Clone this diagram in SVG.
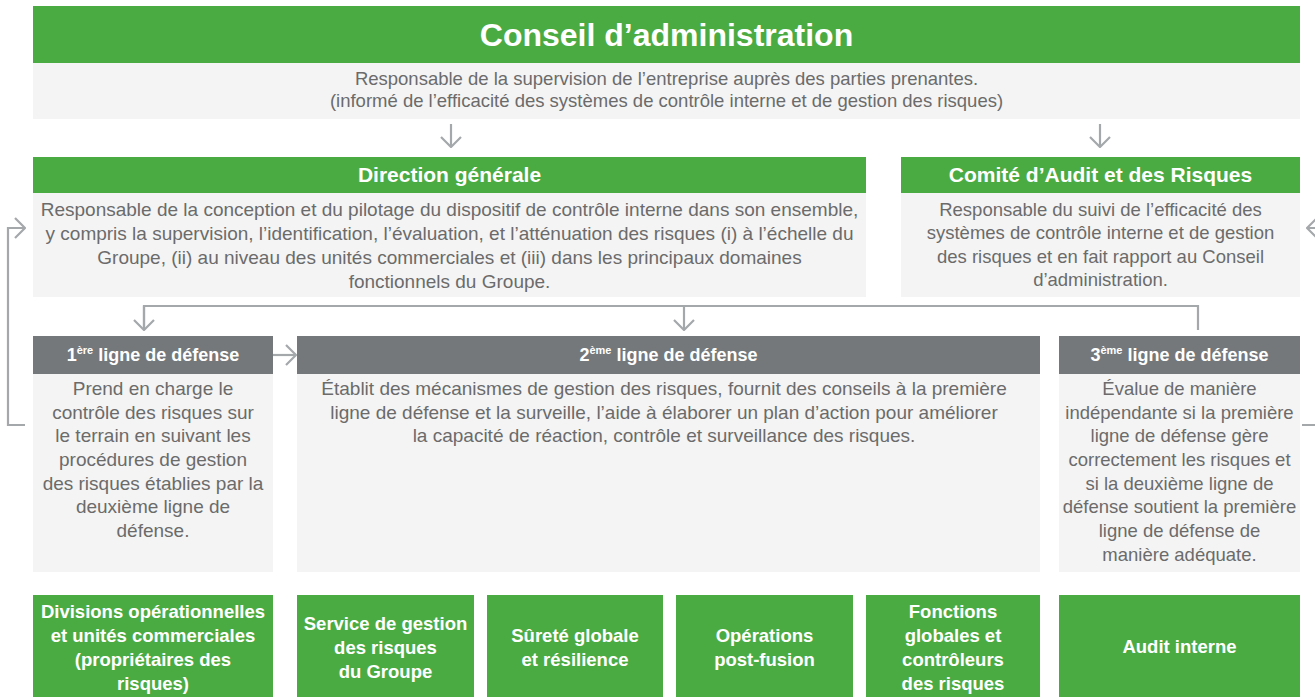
<svg xmlns="http://www.w3.org/2000/svg" width="1315" height="697" viewBox="0 0 1315 697">
<style>
.green{fill:#4bab43}
.hdr{fill:#75787b}
.body{fill:#f4f4f4}
.title{font-family:"Liberation Sans",Arial,sans-serif;font-weight:bold;font-size:32px;fill:#fff;text-anchor:middle}
.h1{font-family:"Liberation Sans",Arial,sans-serif;font-weight:bold;font-size:21px;fill:#fff;text-anchor:middle}
.h2{font-family:"Liberation Sans",Arial,sans-serif;font-weight:bold;font-size:18px;fill:#fff;text-anchor:middle}
.t{font-family:"Liberation Sans",Arial,sans-serif;font-size:18.5px;fill:#6b6b6b;text-anchor:middle}
.t19{font-size:19px}
.b{font-family:"Liberation Sans",Arial,sans-serif;font-weight:bold;font-size:18.5px;fill:#fff;text-anchor:middle}
.ln{fill:none;stroke:#a5a8ab;stroke-width:2.2}
</style>
<defs>
<marker id="chev" viewBox="0 0 12 22" refX="11" refY="11" markerWidth="12" markerHeight="22" markerUnits="userSpaceOnUse" orient="auto">
<path d="M1,1 L11,11 L1,21" fill="none" stroke="#a5a8ab" stroke-width="2.2"/>
</marker>
</defs>

<g id="connectors">
<path class="ln" d="M451,124 V147" marker-end="url(#chev)"/>
<path class="ln" d="M1100,124 V147" marker-end="url(#chev)"/>
<path class="ln" d="M144,330 V306 H1198 V330"/>
<path class="ln" d="M144,306 V330" marker-end="url(#chev)"/>
<path class="ln" d="M684,306 V330" marker-end="url(#chev)"/>
<path class="ln" d="M273,355 H296" marker-end="url(#chev)"/>
<path class="ln" d="M25,425 H8 V228 H25" marker-end="url(#chev)"/>
<path class="ln" d="M1302,425 H1325 V228 H1307" marker-end="url(#chev)"/>
</g>

<g id="conseil">
<rect class="green" x="33" y="6" width="1267" height="57"/>
<text class="title" x="666.5" y="46">Conseil d’administration</text>
<rect class="body" x="33" y="63" width="1267" height="56"/>
<text class="t" x="666.5" y="84.5">Responsable de la supervision de l’entreprise auprès des parties prenantes.</text>
<text class="t" x="666.5" y="106.5">(informé de l’efficacité des systèmes de contrôle interne et de gestion des risques)</text>
</g>

<g id="direction">
<rect class="green" x="33" y="157" width="833" height="36"/>
<text class="h1" x="449.5" y="182">Direction générale</text>
<rect class="body" x="33" y="193" width="833" height="104"/>
<text class="t t19" x="449.5" y="216">Responsable de la conception et du pilotage du dispositif de contrôle interne dans son ensemble,</text>
<text class="t t19" x="449.5" y="240">y compris la supervision, l’identification, l’évaluation, et l’atténuation des risques (i) à l’échelle du</text>
<text class="t t19" x="449.5" y="264">Groupe, (ii) au niveau des unités commerciales et (iii) dans les principaux domaines</text>
<text class="t t19" x="449.5" y="288">fonctionnels du Groupe.</text>
</g>

<g id="comite">
<rect class="green" x="901" y="157" width="399" height="36"/>
<text class="h1" x="1100.5" y="182">Comité d’Audit et des Risques</text>
<rect class="body" x="901" y="193" width="399" height="104"/>
<text class="t" x="1100.5" y="215.5">Responsable du suivi de l’efficacité des</text>
<text class="t" x="1100.5" y="239">systèmes de contrôle interne et de gestion</text>
<text class="t" x="1100.5" y="262.5">des risques et en fait rapport au Conseil</text>
<text class="t" x="1100.5" y="286">d’administration.</text>
</g>

<g id="ligne1">
<rect class="hdr" x="33" y="336" width="240" height="38"/>
<text class="h2" x="153" y="361">1<tspan font-size="11" dy="-7">ère</tspan><tspan dy="7"> ligne de défense</tspan></text>
<rect class="body" x="33" y="374" width="240" height="198"/>
<text class="t t19" x="153" y="395">Prend en charge le</text>
<text class="t t19" x="153" y="418.7">contrôle des risques sur</text>
<text class="t t19" x="153" y="442.3">le terrain en suivant les</text>
<text class="t t19" x="153" y="466">procédures de gestion</text>
<text class="t t19" x="153" y="489.7">des risques établies par la</text>
<text class="t t19" x="153" y="513.3">deuxième ligne de</text>
<text class="t t19" x="153" y="537">défense.</text>
</g>

<g id="ligne2">
<rect class="hdr" x="297" y="336" width="743" height="38"/>
<text class="h2" x="668.5" y="361">2<tspan font-size="11" dy="-7">ème</tspan><tspan dy="7"> ligne de défense</tspan></text>
<rect class="body" x="297" y="374" width="743" height="198"/>
<text class="t t19" x="664" y="395">Établit des mécanismes de gestion des risques, fournit des conseils à la première</text>
<text class="t t19" x="664" y="418.7">ligne de défense et la surveille, l’aide à élaborer un plan d’action pour améliorer</text>
<text class="t t19" x="664" y="442.3">la capacité de réaction, contrôle et surveillance des risques.</text>
</g>

<g id="ligne3">
<rect class="hdr" x="1059" y="336" width="241" height="38"/>
<text class="h2" x="1179.5" y="361">3<tspan font-size="11" dy="-7">ème</tspan><tspan dy="7"> ligne de défense</tspan></text>
<rect class="body" x="1059" y="374" width="241" height="198"/>
<text class="t" x="1179.5" y="395">Évalue de manière</text>
<text class="t" x="1179.5" y="418.7">indépendante si la première</text>
<text class="t" x="1179.5" y="442.3">ligne de défense gère</text>
<text class="t" x="1179.5" y="466">correctement les risques et</text>
<text class="t" x="1179.5" y="489.7">si la deuxième ligne de</text>
<text class="t" x="1179.5" y="513.3">défense soutient la première</text>
<text class="t" x="1179.5" y="537">ligne de défense de</text>
<text class="t" x="1179.5" y="560.7">manière adéquate.</text>
</g>

<g id="divisions">
<rect class="green" x="33" y="595" width="240" height="102"/>
<text class="b" x="153" y="617.5">Divisions opérationnelles</text>
<text class="b" x="153" y="641.5">et unités commerciales</text>
<text class="b" x="153" y="665.5">(propriétaires des</text>
<text class="b" x="153" y="689.5">risques)</text>
</g>

<g id="service">
<rect class="green" x="297" y="595" width="177" height="102"/>
<text class="b" x="385.5" y="629.5">Service de gestion</text>
<text class="b" x="385.5" y="653.5">des risques</text>
<text class="b" x="385.5" y="677.5">du Groupe</text>
</g>

<g id="surete">
<rect class="green" x="487" y="595" width="176" height="102"/>
<text class="b" x="575" y="641.5">Sûreté globale</text>
<text class="b" x="575" y="665.5">et résilience</text>
</g>

<g id="operations">
<rect class="green" x="676" y="595" width="177" height="102"/>
<text class="b" x="764.5" y="641.5">Opérations</text>
<text class="b" x="764.5" y="665.5">post-fusion</text>
</g>

<g id="fonctions">
<rect class="green" x="866" y="595" width="174" height="102"/>
<text class="b" x="953" y="617.5">Fonctions</text>
<text class="b" x="953" y="641.5">globales et</text>
<text class="b" x="953" y="665.5">contrôleurs</text>
<text class="b" x="953" y="689.5">des risques</text>
</g>

<g id="audit">
<rect class="green" x="1059" y="595" width="241" height="102"/>
<text class="b" x="1179.5" y="652.5">Audit interne</text>
</g>
</svg>
